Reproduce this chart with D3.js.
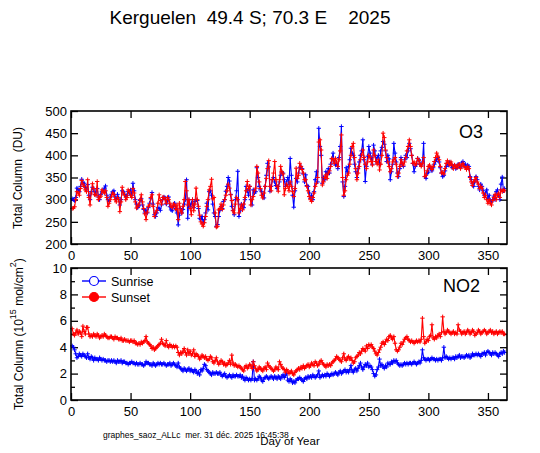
<!DOCTYPE html>
<html>
<head>
<meta charset="utf-8">
<script src="https://cdn.jsdelivr.net/npm/d3@7"></script>
<style>
	body { margin: 0; background: #fff; }
	svg { display: block; font-family: Arial, "Liberation Sans", sans-serif; }
</style>
</head>
<body>
<svg id="chart" width="540" height="453"></svg>
<script>
// daily values, day 1 .. 364
var o3Sunrise = [
	302,300,298,305,326,322,318,330,346,338, 337,328,322,334,310,300,318,328,322,312,
	318,325,306,300,312,318,320,326,331,310, 300,296,306,312,318,320,306,300,312,304,
	288,300,320,318,312,306,310,318,315,322, 310,337,320,300,290,282,286,298,302,288,
	278,270,276,270,282,292,302,316,290,266, 262,270,282,280,276,288,300,306,304,290,
	298,306,284,277,275,286,292,280,270,243, 265,280,270,278,290,300,345,258,300,285,
	292,300,282,296,300,298,280,258,255,262, 248,255,270,292,277,318,320,310,290,270,
	262,240,244,262,276,285,280,296,300,319, 330,350,342,312,285,276,266,300,320,364,
	262,275,290,285,282,300,330,320,310,330, 300,288,322,315,318,372,350,330,322,318,
	310,304,330,355,382,374,319,330,345,350, 340,332,325,330,340,355,362,360,345,330,
	340,350,335,393,355,310,283,320,348,340, 360,372,375,370,358,340,356,332,330,315,
	303,310,300,318,345,363,340,461,420,400, 337,350,345,363,358,370,360,380,392,405,
	385,378,382,370,395,420,465,340,307,330, 372,363,375,390,416,405,400,380,363,350,
	370,385,400,410,435,390,341,375,398,420, 405,395,380,423,410,386,395,400,380,410,
	418,431,425,410,386,400,392,345,363,380, 427,405,385,360,352,370,395,380,375,390,
	400,395,410,427,415,400,382,363,375,380, 393,390,380,378,385,427,352,348,360,362,
	375,370,365,372,380,386,390,395,385,372, 360,352,355,365,375,382,378,385,380,372,
	375,378,370,372,380,376,372,383,386,378, 380,372,378,375,352,345,336,330,340,352,
	345,330,322,335,330,320,310,315,322,303, 310,298,295,300,308,300,318,322,310,300,
	335,351,320,325
];
var o3Sunset = [
	280,281,284,300,318,315,310,325,343,335, 330,322,318,345,305,288,315,336,325,311,
	310,341,300,305,308,322,318,315,320,305, 285,292,300,308,315,312,300,295,305,300,
	273,295,328,315,310,300,305,322,318,310, 305,325,315,295,281,285,290,300,311,295,
	280,268,255,272,285,288,305,311,285,262, 270,276,292,311,298,290,305,305,300,292,
	305,300,292,285,282,290,288,278,288,255, 292,277,270,285,300,341,320,288,300,280,
	266,300,275,290,326,300,285,265,250,245, 240,248,262,285,300,322,330,346,302,305,
	270,238,240,277,280,290,278,288,300,310, 320,335,326,311,298,275,270,290,305,300,
	270,280,288,277,290,305,320,341,325,330, 288,300,307,320,326,375,360,340,325,310,
	304,315,330,348,370,388,330,320,345,360, 386,345,330,319,345,375,363,358,311,325,
	335,330,320,340,330,318,307,325,371,348, 355,382,375,368,360,345,345,330,320,307,
	300,296,305,315,330,337,350,430,435,412, 333,340,350,356,348,360,365,375,393,390,
	382,393,385,375,390,410,446,350,310,320, 345,355,360,380,400,420,427,395,370,345,
	360,375,390,401,412,395,380,370,385,400, 395,386,378,412,400,386,380,390,367,380,
	400,450,440,412,395,385,375,363,370,385, 390,395,380,352,360,375,390,382,378,385,
	395,410,420,435,420,400,382,385,378,382, 393,388,380,375,382,395,352,355,365,375,
	378,372,368,375,386,395,405,398,390,375, 360,362,358,370,382,388,382,378,385,378,
	370,378,375,372,378,380,370,378,382,375, 372,368,375,370,350,340,332,340,345,350,
	340,335,325,330,326,315,305,310,300,292, 300,292,288,298,305,312,300,310,315,305,
	322,318,322,320
];
var no2Sunrise = [
	4.1,4.0,3.8,3.5,3.2,3.3,3.5,3.4,3.3,3.5, 3.4,3.3,3.2,3.5,3.2,3.1,3.3,3.2,3.0,3.2,
	3.1,3.1,3.0,3.2,3.1,3.0,3.1,3.0,3.0,2.9, 3.0,3.0,2.9,3.0,2.9,3.0,2.9,2.8,3.0,2.9,
	2.9,3.0,2.8,2.9,2.9,2.8,2.8,2.7,2.8,2.8, 2.9,2.8,2.8,2.7,2.8,2.7,2.7,2.8,2.7,2.7,
	2.6,2.7,2.9,2.8,2.8,2.7,2.7,2.6,2.8,2.7, 2.6,2.7,2.8,2.7,2.8,2.7,2.7,2.8,2.7,2.6,
	2.7,2.7,2.8,2.6,2.7,2.8,2.7,2.6,2.5,2.8, 2.5,2.4,2.3,2.2,2.4,2.3,2.2,2.3,2.4,2.2,
	2.3,2.2,2.1,2.3,2.2,2.0,2.1,1.9,2.3,2.2, 2.4,2.7,2.6,2.3,2.2,2.1,2.0,1.9,2.1,2.0,
	2.0,2.1,2.0,2.0,2.1,1.9,1.8,1.9,2.0,1.8, 1.7,1.8,1.9,1.8,1.7,1.9,1.8,1.8,1.9,1.8,
	1.8,1.9,1.7,1.8,1.6,1.5,1.7,1.6,1.5,1.6, 1.5,1.6,2.9,1.5,1.6,1.5,1.6,1.8,1.7,1.5,
	1.4,1.6,1.7,1.8,1.7,1.6,1.7,1.8,1.7,1.6, 1.8,1.7,1.6,1.8,1.7,1.6,1.8,1.9,1.7,1.9,
	2.0,1.5,1.4,1.6,1.5,1.3,1.4,1.3,1.5,1.6, 1.6,1.7,1.6,1.5,1.4,1.6,1.7,1.6,1.8,1.7,
	1.8,1.7,1.9,1.8,1.7,1.8,1.9,2.2,1.7,1.8, 1.9,1.8,1.9,1.8,2.0,1.9,1.8,1.9,2.0,1.9,
	2.0,2.1,2.0,1.9,2.1,2.2,2.0,2.1,2.2,2.3, 2.1,2.2,2.1,2.3,2.6,2.2,2.1,2.3,2.4,2.2,
	2.4,2.6,2.8,2.5,2.3,2.5,2.7,2.6,2.8,2.5, 2.6,2.5,2.3,2.0,1.8,1.9,2.3,2.5,3.1,2.6,
	2.7,2.5,2.4,2.6,2.5,2.8,2.7,2.7,2.9,2.8, 3.0,2.9,3.0,2.8,2.7,2.6,2.7,2.6,2.7,2.8,
	2.7,2.8,2.7,2.8,2.8,2.7,2.8,2.9,2.8,2.7, 2.8,2.9,2.8,3.0,3.8,3.2,3.1,3.0,3.1,3.1,
	3.0,3.1,3.2,3.1,3.1,3.0,3.1,3.0,3.1,3.1, 3.0,3.2,4.0,3.2,3.3,3.2,3.1,3.2,3.1,3.2,
	3.2,3.1,3.3,3.2,3.3,3.4,3.2,3.3,3.3,3.2, 3.3,3.4,3.3,3.4,3.2,3.3,3.5,3.4,3.4,3.5,
	3.4,3.5,3.4,3.3,3.5,3.5,3.6,3.4,3.6,3.7, 3.6,3.5,3.4,3.6,3.5,3.6,3.5,3.4,3.3,3.5,
	3.6,3.5,3.7,3.6
];
var no2Sunset = [
	5.4,5.0,4.9,5.1,5.3,5.0,5.2,5.1,4.8,5.6, 5.2,5.0,5.5,5.5,5.0,4.8,4.9,4.8,5.0,4.9,
	4.8,5.0,4.9,4.7,4.8,4.9,4.8,5.0,4.9,4.8, 4.7,4.7,4.8,4.8,4.7,4.6,4.8,4.7,4.7,4.6,
	4.6,4.7,4.5,4.5,4.6,4.5,4.5,4.5,4.4,4.5, 4.5,4.4,4.5,4.3,4.3,4.2,4.3,4.2,4.4,4.3,
	4.4,4.5,4.8,4.4,4.3,4.2,4.1,3.9,4.0,3.8, 3.9,4.0,4.1,4.2,4.3,4.6,4.3,4.2,4.1,4.5,
	4.1,4.0,4.2,4.1,4.0,4.1,4.0,4.1,4.0,3.6, 3.4,3.6,3.5,3.7,3.9,3.6,3.4,3.8,3.5,3.7,
	3.4,3.5,3.8,3.3,3.5,3.4,3.3,3.1,3.2,3.4, 3.3,3.2,3.3,3.1,3.0,3.1,3.3,3.2,2.9,2.8,
	3.0,3.2,2.9,2.7,2.8,3.0,2.9,2.7,2.8,2.6, 2.7,2.8,3.0,2.7,3.4,2.8,2.6,2.7,2.6,2.5,
	2.6,2.5,2.4,2.3,2.2,2.5,2.6,2.4,2.5,2.7, 2.6,2.4,2.9,2.6,2.4,2.2,2.3,2.5,2.4,2.3,
	2.2,2.4,2.5,2.3,2.8,2.6,2.5,2.4,2.3,2.2, 2.3,2.5,2.4,2.3,2.9,2.7,2.5,2.4,2.3,2.1,
	2.3,2.2,2.0,2.1,2.2,2.0,1.9,2.1,2.2,2.3, 2.4,2.3,2.5,2.4,2.6,2.4,2.5,2.6,2.7,2.5,
	2.6,2.8,2.7,2.6,2.9,2.8,2.6,2.7,2.9,3.0, 2.8,2.7,2.6,2.5,2.7,2.6,2.7,2.6,2.8,2.9,
	3.0,3.1,3.3,3.2,3.1,3.0,2.9,3.2,3.5,3.1, 3.0,3.2,3.3,3.1,3.2,3.0,2.8,2.9,3.2,3.3,
	3.4,3.6,3.5,3.7,3.9,3.8,3.7,4.1,3.9,4.2, 4.1,4.2,4.0,3.9,3.7,3.5,3.4,3.6,3.8,4.0,
	4.3,4.4,4.2,4.4,4.6,4.5,4.8,4.9,4.7,4.6, 4.8,4.3,3.8,3.7,3.8,4.0,4.3,4.2,4.4,4.6,
	4.7,4.8,4.6,4.5,4.4,4.5,4.4,4.3,4.4,4.5, 4.4,4.5,4.4,4.6,6.2,4.8,4.3,4.4,4.6,4.5,
	4.8,4.9,5.7,4.7,4.6,4.8,4.7,4.9,5.0,4.8, 5.1,6.3,5.2,5.0,5.1,5.3,5.2,5.1,5.0,5.1,
	5.2,5.0,5.1,5.0,5.7,5.3,5.2,5.0,5.1,5.2, 5.0,5.1,5.3,5.2,5.0,5.1,5.3,5.2,4.9,5.0,
	5.1,5.3,5.2,5.0,5.1,5.2,5.3,5.2,5.0,5.1, 5.2,5.3,5.1,5.2,5.0,5.1,5.2,5.0,5.1,5.2,
	5.1,5.2,5.0,5.0
];
var xTicks = [0, 50, 100, 150, 200, 250, 300, 350];
var o3Ticks = [200, 250, 300, 350, 400, 450, 500];
var no2Ticks = [0, 2, 4, 6, 8, 10];
var no2Minor = [1, 3, 5, 7, 9];
var legendLabels = ['Sunrise', 'Sunset'];

var svg = d3.select('#chart');
var x = d3.scaleLinear().domain([0, 366]).range([71, 507]);
var BLUE = '#0000ff', RED = '#ff0000';

function drawPanel(y, yTicks, yMinor, name, nameX, nameY, series) {
	var top = y.range()[1], bottom = y.range()[0],
		left = x.range()[0], right = x.range()[1],
		g = svg.append('g');

	// ticks pointing inward on all four sides
	g.append('g').attr('transform', 'translate(0,' + bottom + ')')
		.call(d3.axisBottom(x).tickValues(xTicks).tickSizeInner(-7).tickSizeOuter(0).tickPadding(7));
	g.append('g').attr('transform', 'translate(0,' + top + ')')
		.call(d3.axisTop(x).tickValues(xTicks).tickSizeInner(-7).tickSizeOuter(0).tickFormat(''));
	g.append('g').attr('transform', 'translate(' + left + ',0)')
		.call(d3.axisLeft(y).tickValues(yTicks).tickSizeInner(-7).tickSizeOuter(0).tickPadding(4));
	g.append('g').attr('transform', 'translate(' + right + ',0)')
		.call(d3.axisRight(y).tickValues(yTicks).tickSizeInner(-7).tickSizeOuter(0).tickFormat(''));
	if (yMinor) {
		g.append('g').attr('transform', 'translate(' + left + ',0)')
			.call(d3.axisLeft(y).tickValues(yMinor).tickSizeInner(-4).tickSizeOuter(0).tickFormat(''));
		g.append('g').attr('transform', 'translate(' + right + ',0)')
			.call(d3.axisRight(y).tickValues(yMinor).tickSizeInner(-4).tickSizeOuter(0).tickFormat(''));
	}
	g.selectAll('.domain').remove();
	g.selectAll('.tick line').attr('stroke', '#000').attr('stroke-width', 1.3);
	g.selectAll('.tick text').attr('fill', '#000').style('font-size', '13px')
		.style('font-family', 'Arial, "Liberation Sans", sans-serif');

	var plot = g.append('g');
	series.forEach(function(s) {
		var pts = s.values.map(function(v, i) { return [i + 1, v]; });
		var line = d3.line()
			.defined(function(d) { return d[1] != null; })
			.x(function(d) { return x(d[0]); })
			.y(function(d) { return y(d[1]); });
		plot.append('path')
			.attr('d', line(pts))
			.attr('fill', 'none')
			.attr('stroke', s.color)
			.attr('stroke-width', 1.1);
		plot.selectAll(null)
			.data(pts.filter(function(d) { return d[1] != null; }))
			.enter().append('path')
			.attr('transform', function(d) { return 'translate(' + x(d[0]) + ',' + y(d[1]) + ')'; })
			.attr('d', 'M-2.2,0H2.2M0,-2.2V2.2')
			.attr('stroke', s.color)
			.attr('stroke-width', 1);
	});

	g.append('rect')
		.attr('x', left).attr('y', top)
		.attr('width', right - left).attr('height', bottom - top)
		.attr('fill', 'none').attr('stroke', '#000').attr('stroke-width', 1.6);

	g.append('text')
		.attr('x', nameX).attr('y', nameY)
		.style('font-size', '18px')
		.text(name);
	return g;
}

var yO3 = d3.scaleLinear().domain([200, 500]).range([244, 111]);
var yNO2 = d3.scaleLinear().domain([0, 10]).range([400, 268]);

drawPanel(yO3, o3Ticks, null, 'O3', 459, 138, [
	{values: o3Sunrise, color: BLUE},
	{values: o3Sunset, color: RED}
]);
var no2Panel = drawPanel(yNO2, no2Ticks, no2Minor, 'NO2', 443, 292, [
	{values: no2Sunrise, color: BLUE},
	{values: no2Sunset, color: RED}
]);

// legend
var legend = no2Panel.append('g');
legendLabels.forEach(function(label, i) {
	var ly = 281 + i * 16, c = i === 0 ? BLUE : RED;
	legend.append('line')
		.attr('x1', 82).attr('x2', 106).attr('y1', ly).attr('y2', ly)
		.attr('stroke', c).attr('stroke-width', 1.4);
	legend.append('circle')
		.attr('cx', 94).attr('cy', ly).attr('r', 4.5)
		.attr('fill', i === 0 ? '#fff' : c)
		.attr('stroke', c).attr('stroke-width', 1.2);
	legend.append('text')
		.attr('x', 111).attr('y', ly + 4.5)
		.style('font-size', '12.5px')
		.text(label);
});

// titles and labels
svg.append('text')
	.attr('x', 250).attr('y', 24)
	.attr('text-anchor', 'middle')
	.style('font-size', '19px')
	.style('white-space', 'pre')
	.text('Kerguelen  49.4 S; 70.3 E    2025');

svg.append('text')
	.attr('transform', 'translate(22,178) rotate(-90)')
	.attr('text-anchor', 'middle')
	.style('font-size', '12px')
	.style('white-space', 'pre')
	.text('Total Column  (DU)');

var no2Label = svg.append('text')
	.attr('transform', 'translate(23,334) rotate(-90)')
	.attr('text-anchor', 'middle')
	.style('font-size', '12px');
no2Label.append('tspan').text('Total Column (10');
no2Label.append('tspan').attr('dy', -7).style('font-size', '9px').text('15');
no2Label.append('tspan').attr('dy', 7).text(' mol/cm');
no2Label.append('tspan').attr('dy', -7).style('font-size', '9px').text('2');
no2Label.append('tspan').attr('dy', 7).text(')');

// footer stamp sits partly under the axis title, as in the original
svg.append('text')
	.attr('x', 103).attr('y', 438)
	.style('font-size', '8.5px')
	.style('white-space', 'pre')
	.text('graphes_saoz_ALLc  mer. 31 déc. 2025 16:45:38');

svg.append('text')
	.attr('x', 290).attr('y', 445)
	.attr('text-anchor', 'middle')
	.style('font-size', '11.5px')
	.text('Day of Year');
</script>
</body>
</html>
